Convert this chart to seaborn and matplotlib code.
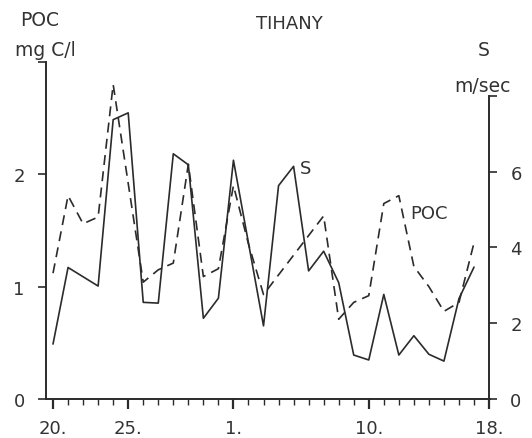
import matplotlib
matplotlib.use("Agg")
import matplotlib.pyplot as plt
import seaborn as sns
import pandas as pd
from matplotlib.ticker import FixedLocator, FixedFormatter

# ---- data (day index: 0 = 20th, 12 = 1st of next month, 21 = 10th, 29 = 18th)
poc_days = [0, 1, 2, 3, 4, 6, 7, 8, 9, 10, 11, 12, 13, 14, 18, 19, 20, 21, 22, 23, 24, 25, 26, 27, 28]
poc_vals = [1.12, 1.81, 1.56, 1.62, 2.80, 1.04, 1.15, 1.21, 2.09, 1.09, 1.16, 1.90, 1.38, 0.93,
            1.63, 0.71, 0.86, 0.92, 1.74, 1.81, 1.18, 1.00, 0.78, 0.86, 1.39]

s_days = [0, 1, 3, 4, 5, 6, 7, 8, 9, 10, 11, 12, 14, 15, 16, 17, 18, 19, 20, 21, 22, 23, 24, 25, 26, 27, 28]
s_vals = [1.45, 3.47, 2.98, 7.37, 7.55, 2.55, 2.53, 6.47, 6.18, 2.13, 2.66, 6.30, 1.93, 5.63, 6.14,
          3.38, 3.90, 3.07, 1.16, 1.03, 2.76, 1.16, 1.67, 1.18, 1.00, 2.65, 3.48]

xtick_major = [0, 5, 12, 21, 29]
xtick_labels = ["20.", "25.", "1.", "10.", "18."]
xtick_minor = list(range(0, 30))
left_ticks = [0, 1, 2, 3]
left_labels = ["0", "1", "2", ""]
right_ticks = [0, 2, 4, 6, 8]
right_labels = ["0", "2", "4", "6", ""]

df_poc = pd.DataFrame({"day": poc_days, "poc": poc_vals})
df_s = pd.DataFrame({"day": s_days, "s": s_vals})

# ---- style
sns.set_theme(style="ticks")
plt.rcParams["font.family"] = ["DejaVu Sans"]
ink = "#2b2b2b"
txt = "#333333"

W, H = 532, 439
fig = plt.figure(figsize=(W / 100, H / 100), dpi=100)
fig.patch.set_facecolor("white")

x0, x1 = 45.5, 489.5
y_bot, y_top = 400, 63
ax = fig.add_axes([x0 / W, (H - y_bot) / H, (x1 - x0) / W, (y_bot - y_top) / H])
ax.set_facecolor("none")
ax2 = ax.twinx()

sns.lineplot(data=df_poc, x="day", y="poc", ax=ax, color=ink, lw=1.2,
             linestyle=(0, (6, 3.8)), sort=True, estimator=None)
sns.lineplot(data=df_s, x="day", y="s", ax=ax2, color=ink, lw=1.2,
             linestyle="-", sort=True, estimator=None)

ax.set_xlim(-0.5, 29.03)
ax.set_ylim(0, 3.0)
ax2.set_ylim(0, 337 / 37.9)

# spines
for a in (ax, ax2):
    a.spines["top"].set_visible(False)
    for sp in a.spines.values():
        sp.set_color(ink)
        sp.set_linewidth(1.4)
ax.spines["right"].set_visible(False)
ax2.spines["left"].set_visible(False)
ax2.spines["bottom"].set_visible(False)
ax.spines["left"].set_bounds(0, 3)
ax2.spines["right"].set_bounds(0, 8)

# ticks
ax.xaxis.set_major_locator(FixedLocator(xtick_major))
ax.xaxis.set_major_formatter(FixedFormatter(xtick_labels))
ax.xaxis.set_minor_locator(FixedLocator(xtick_minor))
ax.tick_params(axis="x", which="major", direction="out", length=7.5, width=1.6,
               colors=ink, labelcolor=txt, labelsize=13, pad=7)
ax.tick_params(axis="x", which="minor", direction="out", length=4.5, width=1.0, colors=ink)
for lbl in ax.get_xticklabels():
    lbl.set_x(lbl.get_position()[0])

ax.yaxis.set_major_locator(FixedLocator(left_ticks))
ax.yaxis.set_major_formatter(FixedFormatter(left_labels))
ax.tick_params(axis="y", direction="out", length=6, width=1.2, colors=ink,
               labelcolor=txt, labelsize=13, pad=9)

ax2.yaxis.set_major_locator(FixedLocator(right_ticks))
ax2.yaxis.set_major_formatter(FixedFormatter(right_labels))
ax2.tick_params(axis="y", direction="out", length=6, width=1.2, colors=ink,
                labelcolor=txt, labelsize=13, pad=9)

ax.set_xlabel("")
ax.set_ylabel("")
ax2.set_ylabel("")

# in-plot series labels
ax2.text(16.45, 6.1, "S", fontsize=13, color=txt, ha="left", va="center")
ax.text(23.75, 1.66, "POC", fontsize=13, color=txt, ha="left", va="center")

# axis titles / header
def ftext(px, py, s, **kw):
    fig.text(px / W, 1 - py / H, s, color=txt, ha="center", va="center", **kw)

ftext(40, 20, "POC", fontsize=13.5)
ftext(45, 50, "mg C/l", fontsize=13.5)
ftext(289, 24, "TIHANY", fontsize=13)
ftext(484, 50, "S", fontsize=13.5)
ftext(482, 87, "m/sec", fontsize=13.5)

fig.savefig("out.png", dpi=100, facecolor="white")
